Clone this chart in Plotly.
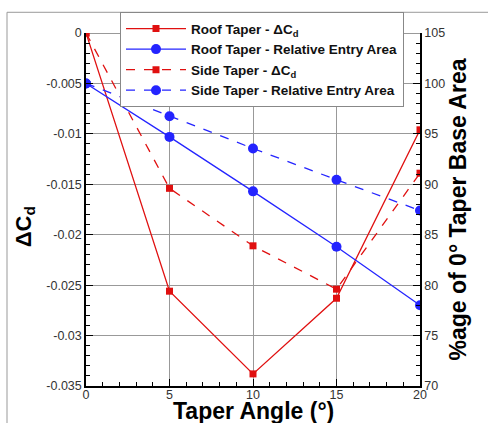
import plotly.graph_objects as go

angles = [0, 5, 10, 15, 20]
roof_dcd = [0.0, -0.0256, -0.0338, -0.0263, -0.0096]
side_dcd = [0.0, -0.0154, -0.0211, -0.0254, -0.0139]
roof_area = [100.0, 94.7, 89.3, 83.8, 78.0]
side_area = [100.0, 96.75, 93.55, 90.45, 87.4]

x_ticks = [0, 5, 10, 15, 20]
y_ticks = [0, -0.005, -0.01, -0.015, -0.02, -0.025, -0.03, -0.035]
y_ticktext = ["0", "-0.005", "-0.01", "-0.015", "-0.02", "-0.025", "-0.03", "-0.035"]
y2_ticks = [70, 75, 80, 85, 90, 95, 100, 105]

RED = "#e01010"
BLUE = "#2424ff"
FONT = "Liberation Sans"

fig = go.Figure()
fig.add_trace(go.Scatter(x=angles, y=roof_dcd, name="Roof Taper - ΔC<sub>d</sub>",
                         mode="lines+markers", line=dict(color=RED, width=1.3),
                         marker=dict(symbol="square", size=7, color=RED)))
fig.add_trace(go.Scatter(x=angles, y=roof_area, name="Roof Taper - Relative Entry Area",
                         yaxis="y2", mode="lines+markers", line=dict(color=BLUE, width=1.3),
                         marker=dict(symbol="circle", size=10, color=BLUE)))
fig.add_trace(go.Scatter(x=angles, y=side_dcd, name="Side Taper - ΔC<sub>d</sub>",
                         mode="lines+markers", line=dict(color=RED, width=1.3, dash="dash"),
                         marker=dict(symbol="square", size=7, color=RED)))
fig.add_trace(go.Scatter(x=angles, y=side_area, name="Side Taper - Relative Entry Area",
                         yaxis="y2", mode="lines+markers", line=dict(color=BLUE, width=1.3, dash="dash"),
                         marker=dict(symbol="circle", size=10, color=BLUE)))

L, R, T, B = 86, 73, 28, 37
W, H = 493, 423
pw, ph = W - L - R, H - T - B

def px_x(x):
    return (x - L) / pw

def px_y(y):
    return 1 - (y - T) / ph

tickfont = dict(family=FONT, size=12.5, color="#333")
titlefont = dict(family=FONT, size=23, color="black", weight="bold")

fig.update_layout(
    width=W, height=H,
    margin=dict(l=L, r=R, t=T, b=B, pad=0),
    paper_bgcolor="white", plot_bgcolor="white",
    font=dict(family=FONT, color="#222", size=12),
    showlegend=True,
    legend=dict(x=px_x(120), y=px_y(7), xanchor="left", yanchor="top",
                bgcolor="white", bordercolor="#888", borderwidth=1,
                font=dict(family=FONT, size=13.5, color="#111", weight="bold"),
                tracegroupgap=0, itemwidth=60),
    xaxis=dict(range=[0, 20], tickvals=x_ticks, ticks="inside", ticklen=7, tickcolor="black",
               tickfont=tickfont, automargin=False, ticklabelstandoff=-4,
               showline=True, linecolor="black", linewidth=1.5, showgrid=True,
               gridcolor="#999", gridwidth=1, zeroline=False, mirror=False,
               minor=dict(dtick=1, ticks="inside", ticklen=4, tickcolor="black", showgrid=False)),
    yaxis=dict(range=[-0.035, 0], tickvals=y_ticks, ticktext=y_ticktext, ticks="inside", ticklen=7,
               tickfont=tickfont, automargin=False,
               tickcolor="black", showline=True, linecolor="black", linewidth=1.5, showgrid=True,
               gridcolor="#999", gridwidth=1, zeroline=True, zerolinecolor="#999", zerolinewidth=1,
               minor=dict(dtick=0.001, ticks="inside", ticklen=4, tickcolor="black", showgrid=False)),
    yaxis2=dict(range=[70, 105], tickvals=y2_ticks, overlaying="y", side="right", ticks="inside",
                tickfont=tickfont, automargin=False,
                ticklen=7, tickcolor="black", showline=True, linecolor="black", linewidth=1.5,
                showgrid=False, zeroline=False,
                minor=dict(dtick=1, ticks="inside", ticklen=4, tickcolor="black", showgrid=False),
                title=dict(text="%age of 0° Taper Base Area", font=titlefont, standoff=4)),
    annotations=[
        dict(text="Taper Angle (°)", xref="paper", yref="paper", x=px_x(253), y=px_y(396),
             xanchor="center", yanchor="top", showarrow=False, font=titlefont),
        dict(text="ΔC<sub>d</sub>", xref="paper", yref="paper", x=px_x(25), y=px_y(225),
             xanchor="center", yanchor="middle", showarrow=False, textangle=-90,
             font=dict(family=FONT, size=22, color="black", weight="bold")),
    ],
    shapes=[
        dict(type="line", xref="paper", yref="paper", x0=px_x(7), x1=px_x(7),
             y0=px_y(H + 5), y1=px_y(7), line=dict(color="#999", width=1)),
        dict(type="line", xref="paper", yref="paper", x0=px_x(7), x1=px_x(488),
             y0=px_y(7), y1=px_y(7), line=dict(color="#999", width=1)),
    ],
)

fig.write_html("out.html")
